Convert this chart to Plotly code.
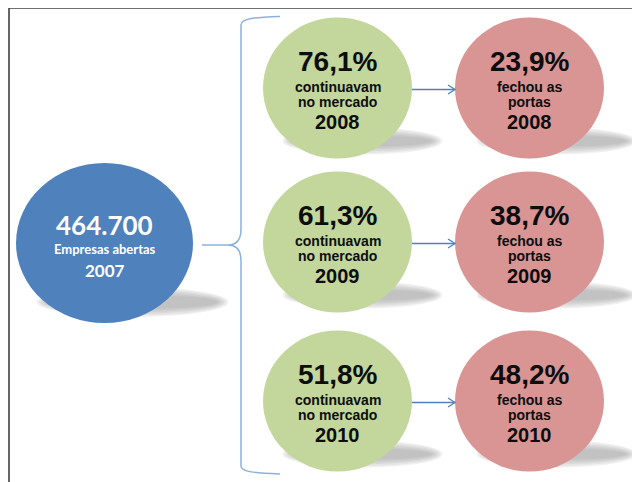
import plotly.graph_objects as go

# ---- data ----
base_count = "464.700"
base_label = "Empresas abertas"
base_year = "2007"
years_after = ["2008", "2009", "2010"]
pct_continued = ["76,1%", "61,3%", "51,8%"]
pct_closed = ["23,9%", "38,7%", "48,2%"]
label_continued = ["continuavam", "no mercado"]
label_closed = ["fechou as", "portas"]

# ---- layout geometry ----
W, H = 640, 482
OFF = 8  # page body margin compensation
row_cy = [88, 242, 401]
green_cx, red_cx = 337.5, 529.5
crx, cry = 74.5, 70.5
blue_cx, blue_cy, blue_rx, blue_ry = 104.5, 243, 88.5, 80

BLUE = "#4f81bd"
GREEN = "#c3d69b"
RED = "#d99594"
TXT = "#0d0d0d"
LINE_BLUE = "#4f81bd"
BRACE = "#8eb0dd"

shapes = []
annotations = []


def ellipse(cx, cy, rx, ry, color, opacity=1.0):
    shapes.append(dict(type="circle", xref="x", yref="y",
                       x0=cx - rx, x1=cx + rx, y0=cy - ry, y1=cy + ry,
                       fillcolor=color, opacity=opacity, line=dict(width=0),
                       layer="above"))


def shadow(cx, cy, rx, ry):
    n = 6
    for k in range(n):
        ellipse(cx, cy, rx - k * 2.2, ry - k * 1.6, "#9a9a9a", 0.14)


def text(x, y, s, size, color=TXT, family="Liberation Sans, Arial, sans-serif"):
    annotations.append(dict(x=x, y=y, xref="x", yref="y", text="<b>%s</b>" % s,
                            showarrow=False, xanchor="center", yanchor="middle",
                            font=dict(size=size, color=color, family=family)))


# frame
shapes.append(dict(type="line", xref="x", yref="y", x0=9, x1=W + 20, y0=8, y1=8,
                   line=dict(color="#404040", width=1.6), layer="above"))
shapes.append(dict(type="line", xref="x", yref="y", x0=9, x1=9, y0=8, y1=H + 20,
                   line=dict(color="#404040", width=1.6), layer="above"))

# blue base circle
shadow(blue_cx + 28, blue_cy + 59, 96, 15)
ellipse(blue_cx, blue_cy, blue_rx, blue_ry, BLUE)
text(blue_cx, blue_cy - 18, base_count, 26, "white", "Lato, Open Sans, sans-serif")
text(blue_cx, blue_cy + 6, base_label, 13, "white", "Lato, Open Sans, sans-serif")
text(blue_cx, blue_cy + 27, base_year, 17, "white", "Lato, Open Sans, sans-serif")

# connector + brace
shapes.append(dict(type="line", xref="x", yref="y", x0=202, x1=228, y0=245, y1=245,
                   line=dict(color=BRACE, width=1.5), layer="above"))
brace = ("M 280,16.5 C 255,17.5 241,18 241,25 L 241,229 "
         "Q 241,245 228,245 Q 241,245 241,261 L 241,466 "
         "C 241,472 255,473 280,474")
shapes.append(dict(type="path", xref="x", yref="y", path=brace,
                   line=dict(color=BRACE, width=1.5), layer="above"))

for i, cy in enumerate(row_cy):
    shadow(green_cx + 25, cy + 53, 80, 13.5)
    shadow(red_cx + 27, cy + 53, 80, 13.5)
for i, cy in enumerate(row_cy):
    ellipse(green_cx, cy, crx, cry, GREEN)
    ellipse(red_cx, cy, crx, cry, RED)
    # arrow
    ay = cy + 1.5
    shapes.append(dict(type="line", xref="x", yref="y", x0=412, x1=455, y0=ay, y1=ay,
                       line=dict(color=LINE_BLUE, width=1.3), layer="above"))
    shapes.append(dict(type="path", xref="x", yref="y",
                       path="M 448,%f L 455,%f L 448,%f" % (ay - 4.5, ay, ay + 4.5),
                       line=dict(color=LINE_BLUE, width=1.3), layer="above"))
    # green texts
    text(green_cx, cy - 27, pct_continued[i], 28)
    text(green_cx, cy - 1, label_continued[0], 14)
    text(green_cx, cy + 14, label_continued[1], 14)
    text(green_cx, cy + 34, years_after[i], 20)
    # red texts
    text(red_cx, cy - 27, pct_closed[i], 28)
    text(red_cx, cy - 1, label_closed[0], 14)
    text(red_cx, cy + 14, label_closed[1], 14)
    text(red_cx, cy + 34, years_after[i], 20)

fig = go.Figure()
fig.add_trace(go.Scatter(x=[OFF, W + OFF], y=[OFF, H + OFF], mode="markers",
                         marker=dict(opacity=0), hoverinfo="skip", showlegend=False))
fig.update_layout(
    width=W, height=H, autosize=False,
    margin=dict(l=0, r=0, t=0, b=0, pad=0),
    paper_bgcolor="white", plot_bgcolor="white",
    xaxis=dict(range=[OFF, W + OFF], visible=False, fixedrange=True),
    yaxis=dict(range=[H + OFF, OFF], visible=False, fixedrange=True),
    shapes=shapes, annotations=annotations, showlegend=False,
)
fig.write_html("out.html", config={"displayModeBar": False})
